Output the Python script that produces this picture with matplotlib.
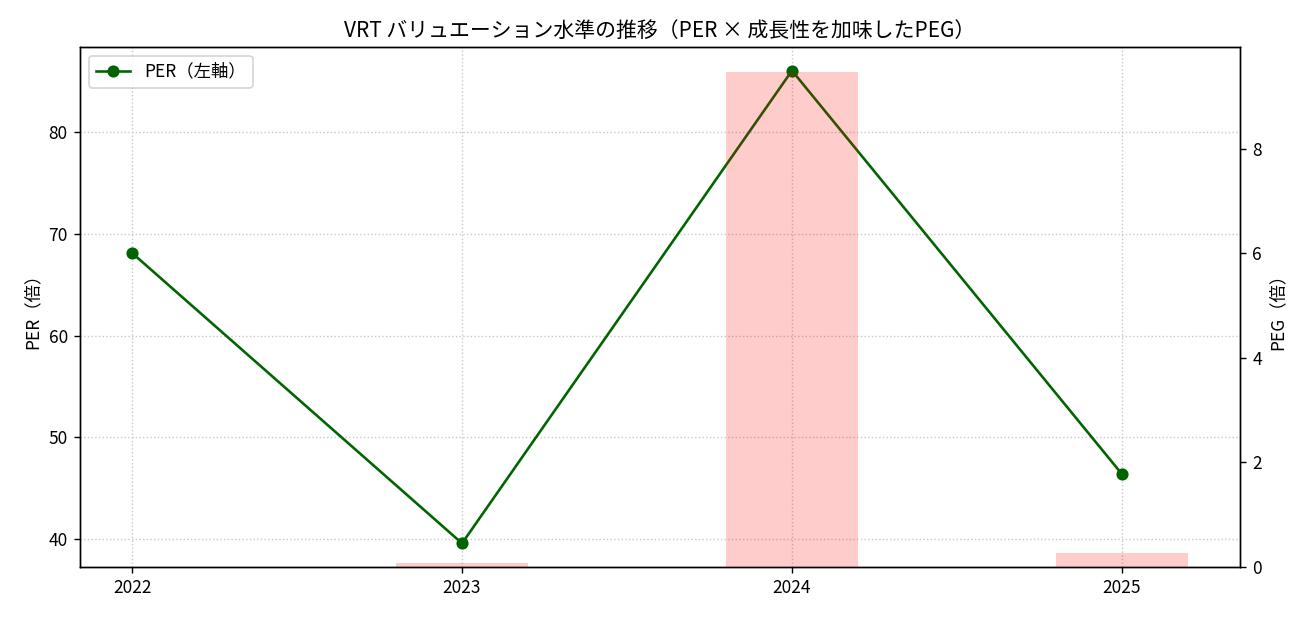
import numpy as np
import matplotlib.pyplot as plt

plt.rcParams['font.family'] = ['Noto Sans CJK JP', 'DejaVu Sans']

years = ["2022", "2023", "2024", "2025"]
per = [68.1, 39.6, 86.0, 46.4]
peg = [np.nan, 0.07, 9.47, 0.27]

x = np.arange(len(years))

fig = plt.figure(figsize=(10.472, 4.936), dpi=125)
ax1 = fig.add_axes([0.0611, 0.0811, 0.8862, 0.8427])

ax1.plot(x, per, color="darkgreen", marker="o", linewidth=1.5, markersize=6, label="PER（左軸）")
ax1.set_ylabel("PER（倍）", fontsize=10)
ax1.grid(True, linestyle=":", color="#bbbbbb", alpha=0.8)
ax1.set_xticks(x)
ax1.set_xticklabels(years)
ax1.set_xlim(-0.158, 3.358)

ax2 = ax1.twinx()
ax2.bar(x, peg, width=0.4, color="red", alpha=0.2)
ax2.set_ylabel("PEG（倍）", fontsize=10)
ax2.set_ylim(0, 9.95)

ax1.legend(loc="upper left")
ax1.set_title("VRT バリュエーション水準の推移（PER × 成長性を加味したPEG）", fontsize=12)

fig.savefig("out.png", dpi=125)
